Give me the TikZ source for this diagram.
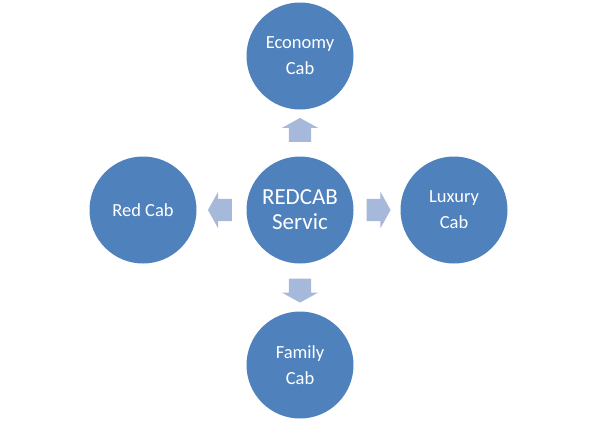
\documentclass[tikz,border=0pt]{standalone}
\usepackage{fontspec}
\setmainfont{Carlito}
\usepackage{tikz}
\usetikzlibrary{calc,positioning,shapes.arrows}
\definecolor{cabBlue}{RGB}{79,129,189}
\definecolor{cabArrow}{RGB}{167,185,218}

\tikzset{
  cabcircle/.style={circle, fill=cabBlue, text=white, minimum size=107pt, inner sep=0pt,
    align=center, font=\fontsize{18.5}{26}\selectfont},
  blockarrow/.style={single arrow, fill=cabArrow, draw=none, inner sep=0pt, inner ysep=11pt,
    minimum height=24pt, single arrow head extend=7pt, single arrow tip angle=122}
}

\begin{document}
\begin{tikzpicture}[x=1pt,y=-1pt]
\useasboundingbox (0,0) rectangle (599,421);

\node[cabcircle, font=\fontsize{23}{25}\selectfont] (service) at (300,210) {REDCAB\\Servic};
\node[cabcircle] (economy) at (300,56) {Economy\\Cab};
\node[cabcircle] (redcab) at (143,210) {Red Cab};
\node[cabcircle] (luxury) at (454,210) {Luxury\\Cab};
\node[cabcircle] (family) at (300,365) {Family\\Cab};

% block arrows between the middle and the outer circles
\node[blockarrow, rotate=90] (toEconomy) at ($(service)!0.5!(economy)$) {};
\node[blockarrow, rotate=180] (toRed) at ($(service)!0.49!(redcab)$) {};
\node[blockarrow] (toLuxury) at ($(service)!0.49!(luxury)$) {};
\node[blockarrow, rotate=-90] (toFamily) at ($(service)!0.5!(family)$) {};
\end{tikzpicture}
\end{document}
